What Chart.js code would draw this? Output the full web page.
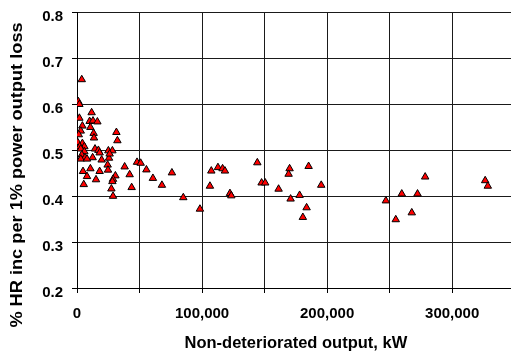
<!DOCTYPE html>
<html>
<head>
<meta charset="utf-8">
<script src="https://cdn.jsdelivr.net/npm/chart.js@4.4.1/dist/chart.umd.min.js"></script>
<style>
  html, body { margin: 0; padding: 0; background: #fff; overflow: hidden; }
  #wrap { width: 520px; height: 353px; }
</style>
</head>
<body>
<div id="wrap"><canvas id="c" width="520" height="353"></canvas></div>
<script>
// Non-deteriorated output (kW)
const outputKW = [
  3800, 1100, 1900, 11700, 1900, 10100, 12800, 16300, 4300, 10700,
  3000, 13300, 13600, 1400, 31500, 32300, 600, 4300, 5900, 2200,
  3000, 14400, 17100, 25100, 28300, 18100, 5900, 3800, 6400, 3000,
  12500, 8000, 19700, 25600, 26100, 24500, 38100, 4800, 10700, 18100,
  8000, 15200, 24800, 30700, 28800, 28300, 5400, 27500, 28800,
  48000, 50900, 55500, 42100, 60700, 75900, 43700, 67900, 85000, 98300,
  107400, 112700, 116400, 118300, 106300, 122300, 123400,
  144200, 170000, 169200, 185200, 147600, 150500, 161200, 195300, 170800, 178000,
  183600, 180600, 247000, 259700, 272300, 278400, 267700, 254900, 326400, 328500
];
// % HR increase per 1% power output loss
const hrIncrease = [
  0.654, 0.606, 0.600, 0.582, 0.570, 0.563, 0.564, 0.562, 0.553, 0.550,
  0.542, 0.537, 0.527, 0.534, 0.539, 0.521, 0.517, 0.515, 0.508, 0.508,
  0.503, 0.503, 0.500, 0.499, 0.499, 0.4945, 0.497, 0.490, 0.484, 0.481,
  0.484, 0.481, 0.479, 0.483, 0.492, 0.468, 0.464, 0.454, 0.460, 0.454,
  0.443, 0.436, 0.457, 0.4445, 0.437, 0.432, 0.4255, 0.416, 0.400,
  0.474, 0.472, 0.4575, 0.447, 0.439, 0.451, 0.419, 0.424, 0.397, 0.372,
  0.455, 0.4625, 0.460, 0.455, 0.422, 0.406, 0.401,
  0.473, 0.460, 0.448, 0.465, 0.429, 0.429, 0.4155, 0.424, 0.394, 0.402,
  0.375, 0.354, 0.390, 0.405, 0.405, 0.442, 0.364, 0.349, 0.434, 0.422
];
const xTicks = [0, 50000, 100000, 150000, 200000, 250000, 300000, 350000];
const yTicks = [0.2, 0.3, 0.4, 0.5, 0.6, 0.7, 0.8];
const xTitle = 'Non-deteriorated output, kW';
const yTitle = '% HR inc per 1% power output loss';

const FAMILY = '"Liberation Sans", Arial, Helvetica, sans-serif';
const points = outputKW.map((x, i) => ({ x: x, y: hrIncrease[i] }));

const yTitlePlugin = {
  id: 'yTitlePlugin',
  afterDraw(chart) {
    const ctx = chart.ctx;
    ctx.save();
    ctx.translate(17, 175);
    ctx.rotate(-Math.PI / 2);
    ctx.scale(1.07, 1);
    ctx.font = 'bold 17px ' + FAMILY;
    ctx.fillStyle = '#000';
    ctx.textAlign = 'center';
    ctx.textBaseline = 'middle';
    ctx.fillText(yTitle, 0, 0);
    ctx.restore();
  }
};

new Chart(document.getElementById('c'), {
  type: 'scatter',
  data: {
    datasets: [{
      data: points,
      pointStyle: 'triangle',
      pointRadius: 4.3,
      pointBackgroundColor: '#ff0000',
      pointBorderColor: '#000000',
      pointBorderWidth: 1,
      showLine: false
    }]
  },
  options: {
    responsive: false,
    animation: false,
    devicePixelRatio: 1,
    layout: { padding: { top: 12.5, right: 4.7, left: 0, bottom: 0 } },
    plugins: { legend: { display: false }, tooltip: { enabled: false } },
    scales: {
      x: {
        type: 'linear',
        min: xTicks[0],
        max: xTicks[xTicks.length - 1],
        afterBuildTicks: (s) => { s.ticks = xTicks.map(v => ({ value: v })); },
        afterFit: (s) => { s.height = 65; s.paddingLeft = 0; s.paddingRight = 0; },
        ticks: {
          padding: 12,
          color: '#000',
          font: { family: FAMILY, size: 15, weight: 'bold' },
          maxRotation: 0,
          autoSkip: false,
          callback: (v) => (v % 100000 === 0 && v < 350000) ? v.toLocaleString('en-US') : ''
        },
        grid: { color: '#1a1a1a', lineWidth: 1, tickLength: 5, tickColor: '#000' },
        border: { display: true, color: '#000', width: 1 },
        title: {
          display: true,
          text: xTitle,
          color: '#000',
          font: { family: FAMILY, size: 16.5, weight: 'bold' },
          padding: { top: 0, bottom: 0 }
        }
      },
      y: {
        min: yTicks[0],
        max: yTicks[yTicks.length - 1],
        afterBuildTicks: (s) => { s.ticks = yTicks.map(v => ({ value: v })); },
        afterFit: (s) => { s.width = 77; s.paddingTop = 0; s.paddingBottom = 0; },
        ticks: {
          padding: 9,
          labelOffset: 4.5,
          color: '#000',
          font: { family: FAMILY, size: 15, weight: 'bold' },
          callback: (v) => Number(v).toFixed(1)
        },
        grid: { color: '#1a1a1a', lineWidth: 1, tickLength: 5, tickColor: '#000' },
        border: { display: true, color: '#000', width: 1 }
      }
    }
  },
  plugins: [yTitlePlugin]
});
</script>
</body>
</html>
